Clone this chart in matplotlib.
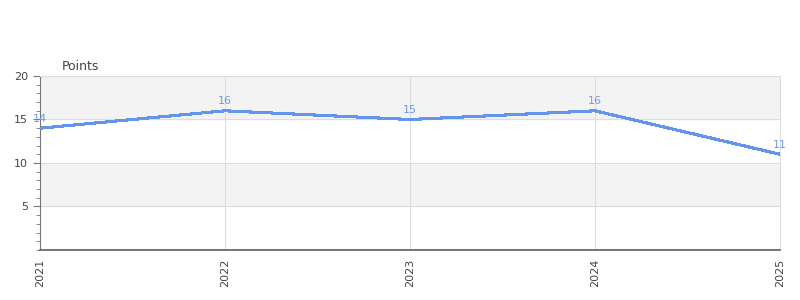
import matplotlib.pyplot as plt
import numpy as np

years = ["2021", "2022", "2023", "2024", "2025"]
points = [14, 16, 15, 16, 11]

fig = plt.figure(figsize=(8, 3), dpi=100)
ax = fig.add_axes([0.05, 0.1667, 0.925, 0.58])

x = np.arange(len(years))
ax.set_xlim(0, len(years) - 1)
ax.set_ylim(0, 20)

# alternating bands
for lo, hi, c in [(0, 5, "white"), (5, 10, "#f3f3f3"), (10, 15, "white"), (15, 20, "#f3f3f3")]:
    ax.axhspan(lo, hi, color=c, zorder=0)
ax.grid(True, color="#dddddd", linewidth=0.8, zorder=1)
ax.set_axisbelow(True)

ax.plot(x, points, color="#6495ed", linewidth=1.5, antialiased=False, zorder=3)
for xi, v in zip(x, points):
    ax.text(xi, v + 0.5, str(v), color="#6f9ae8", fontsize=8, ha="center", va="bottom", zorder=4)

ax.axhline(0, color="#cc0000", linewidth=1, zorder=4)

ax.set_xticks(x)
ax.set_xticklabels(years, rotation=90, fontsize=8, color="#444444")
ax.set_yticks([5, 10, 15, 20])
ax.set_yticklabels(["5", "10", "15", "20"], fontsize=8, color="#444444")
ax.set_yticks(np.arange(0, 21, 1), minor=True)
ax.tick_params(axis="y", which="major", length=5, color="#777777")
ax.tick_params(axis="y", which="minor", length=3, color="#777777")
ax.tick_params(axis="x", length=0, pad=6)

for s in ["top", "right"]:
    ax.spines[s].set_color("#dddddd")
ax.spines["left"].set_color("#777777")
ax.spines["bottom"].set_color("#666666")
ax.spines["bottom"].set_linewidth(1.2)

ax.text(0.03, 1.02, "Points", transform=ax.transAxes, fontsize=9, color="#444444", ha="left", va="bottom")

fig.savefig("out.png", dpi=100)
